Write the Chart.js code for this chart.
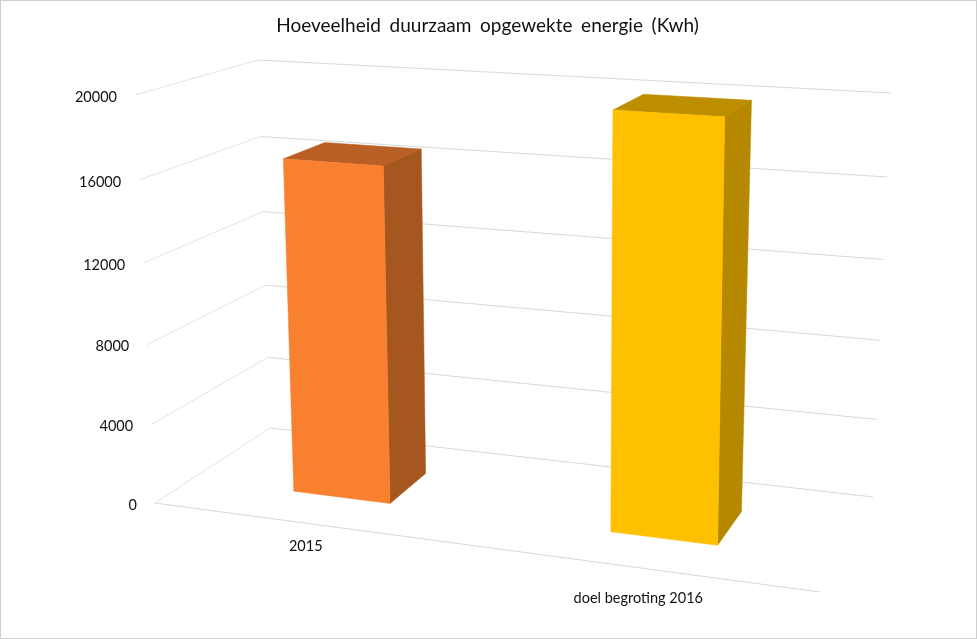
<!DOCTYPE html>
<html>
<head>
<meta charset="utf-8">
<style>html,body{margin:0;padding:0;background:#fff}canvas{display:block}</style>
<script src="https://cdn.jsdelivr.net/npm/chart.js@4/dist/chart.umd.min.js"></script>
</head>
<body>
<canvas id="c" width="977" height="639"></canvas>
<script>
const categories = ['2015', 'doel begroting 2016'];
const energyValues = [16700, 20000];
const barColors = ['#F8802F', '#FFC000'];
const topColors = ['#BA6026', '#BD8E00'];
const sideColors = ['#A6571F', '#B58800'];
const chartTitle = 'Hoeveelheid duurzaam opgewekte energie (Kwh)';

// Perspective box used to project the scales: [x, y] of its eight corners.
const box = {
  fbl: [155, 503], fbr: [820, 592], bbl: [270, 428], bbr: [873, 497],
  ftl: [135, 95], ftr: [830, 140], btl: [258, 60], btr: [891, 93]
};
const depth = [0.33, 0.70];
const mix = (a, b, t) => [a[0] + (b[0] - a[0]) * t, a[1] + (b[1] - a[1]) * t];
function project(u, v, w) {
  const g = u - 0.104 * u * (1 - u);
  const f = w - 0.05 * w * (1 - w);
  const bottom = mix(mix(box.fbl, box.fbr, g), mix(box.bbl, box.bbr, g), v);
  const top = mix(mix(box.ftl, box.ftr, g), mix(box.btl, box.btr, g), v);
  return mix(bottom, top, f);
}
function poly(ctx, pts, fill) {
  ctx.beginPath();
  pts.forEach((p, i) => i ? ctx.lineTo(p[0], p[1]) : ctx.moveTo(p[0], p[1]));
  ctx.closePath();
  ctx.fillStyle = fill;
  ctx.fill();
  ctx.strokeStyle = fill;
  ctx.lineWidth = 0.5;
  ctx.stroke();
}
function line(ctx, pts) {
  ctx.beginPath();
  pts.forEach((p, i) => i ? ctx.lineTo(p[0], p[1]) : ctx.moveTo(p[0], p[1]));
  ctx.stroke();
}
const uOf = (x, a) => (x - a.left) / (a.right - a.left);
const wOf = (y, a) => (a.bottom - y) / (a.bottom - a.top);

const scene3d = {
  id: 'scene3d',
  beforeDraw(chart) {
    const ctx = chart.ctx;
    ctx.save();
    ctx.fillStyle = '#fff';
    ctx.fillRect(0, 0, chart.width, chart.height);
    ctx.strokeStyle = '#cfcfcf';
    ctx.lineWidth = 1;
    ctx.strokeRect(0.5, 0.5, chart.width - 1, chart.height - 1);
    ctx.restore();
    ctx.wordSpacing = '3.8px';
  },
  beforeDatasetsDraw(chart) {
    const ctx = chart.ctx, y = chart.scales.y, a = chart.chartArea;
    ctx.save();
    ctx.wordSpacing = '0px';
    ctx.lineWidth = 1;
    y.ticks.forEach(t => {
      const w = wOf(y.getPixelForValue(t.value), a);
      ctx.strokeStyle = '#e4e4e4';
      line(ctx, [project(0, 0, w), project(0, 1, w)]);
      ctx.strokeStyle = '#d9d9d9';
      line(ctx, [project(0, 1, w), project(1, 1, w)]);
      if (t.value === 0) line(ctx, [project(0, 0, 0), project(1, 0, 0)]);
    });
    ctx.restore();
  },
  beforeDatasetDraw(chart, args) {
    const ctx = chart.ctx, a = chart.chartArea;
    const meta = args.meta;
    ctx.save();
    meta.data.forEach((el, i) => {
      const p = el.getProps(['x', 'y', 'width'], true);
      const u0 = uOf(p.x - p.width / 2, a), u1 = uOf(p.x + p.width / 2, a);
      const w = wOf(p.y, a), v0 = depth[0], v1 = depth[1];
      poly(ctx, [project(u0, v0, w), project(u1, v0, w), project(u1, v1, w), project(u0, v1, w)], topColors[i]);
      poly(ctx, [project(u1, v0, 0), project(u1, v1, 0), project(u1, v1, w), project(u1, v0, w)], sideColors[i]);
      poly(ctx, [project(u0, v0, 0), project(u1, v0, 0), project(u1, v0, w), project(u0, v0, w)], barColors[i]);
    });
    ctx.restore();
    return false;
  },
  afterDraw(chart) {
    const ctx = chart.ctx, y = chart.scales.y, x = chart.scales.x, a = chart.chartArea;
    ctx.save();
    ctx.wordSpacing = '0px';
    ctx.font = '14.5px Lato';
    ctx.fillStyle = '#111';
    ctx.textBaseline = 'middle';
    ctx.textAlign = 'right';
    y.ticks.forEach(t => {
      const w = wOf(y.getPixelForValue(t.value), a);
      const p = project(0, 0, w);
      ctx.fillText(t.label, p[0] - 18, p[1] + 2);
    });
    ctx.textAlign = 'center';
    x.ticks.forEach((t, i) => {
      const u = uOf(x.getPixelForTick(i), a);
      const p = project(u, 0, 0);
      ctx.fillText(categories[i], p[0] - 2.5, p[1] + 23 + (u - 0.25) * 14);
    });
    ctx.restore();
  }
};

new Chart(document.getElementById('c'), {
  type: 'bar',
  data: {
    labels: categories,
    datasets: [{ label: chartTitle, data: energyValues, backgroundColor: barColors, barPercentage: 0.315, categoryPercentage: 1 }]
  },
  plugins: [scene3d],
  options: {
    responsive: false,
    animation: false,
    layout: { padding: { left: 155, right: 157, top: 14, bottom: 136 } },
    plugins: {
      legend: { display: false },
      tooltip: { enabled: false },
      title: {
        display: true,
        text: chartTitle,
        color: '#111',
        font: { family: 'Lato', size: 19, weight: 'normal' },
        padding: { top: 0, bottom: 59 }
      }
    },
    scales: {
      x: { grid: { display: false }, border: { display: false }, ticks: { display: false } },
      y: {
        min: 0, max: 20000,
        grid: { display: false }, border: { display: false },
        ticks: { display: false, stepSize: 4000, callback: v => String(v) }
      }
    }
  }
});
</script>
</body>
</html>
